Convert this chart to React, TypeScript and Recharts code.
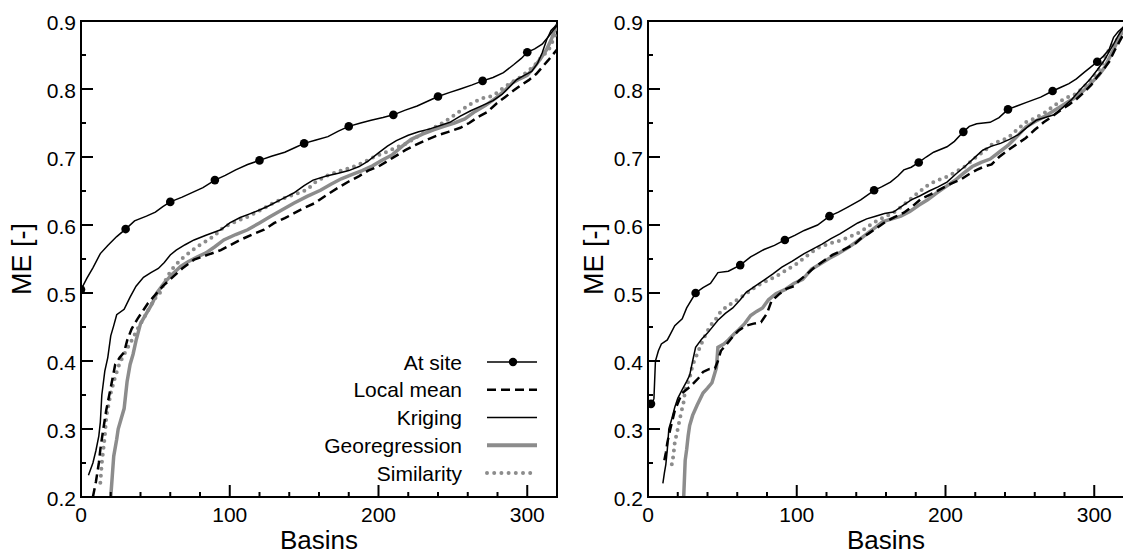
import React from 'react';
import { LineChart, Line, XAxis, YAxis, ReferenceArea, Legend } from 'recharts';

type Pt = [number, number];

// ---------- ticks / labels ----------
const xMajorTicks = [0, 100, 200, 300];
const xMinorTicks = [20, 40, 60, 80, 120, 140, 160, 180, 220, 240, 260, 280];
const yMajorTicks = [0.2, 0.3, 0.4, 0.5, 0.6, 0.7, 0.8, 0.9];
const yMinorTicks = [0.25, 0.35, 0.45, 0.55, 0.65, 0.75, 0.85];
const xDomain = [0, 320];
const yDomain = [0.2, 0.9];
const xTitle = 'Basins';
const yTitle = 'ME [-]';
const seriesNames = ['At site', 'Local mean', 'Kriging', 'Georegression', 'Similarity'];

// ---------- left panel ----------
const leftAtSiteMarkers = [0, 30, 60, 90, 120, 150, 180, 210, 240, 270, 300];
const leftAtSite: Pt[] = [
  [0, 0.505], [4, 0.522], [8, 0.537], [13, 0.558], [18, 0.57], [24, 0.583], [30, 0.594], [36, 0.606],
  [44, 0.613], [50, 0.619], [55, 0.627], [60, 0.634], [68, 0.641], [75, 0.648], [82, 0.655], [90, 0.666],
  [97, 0.673], [104, 0.681], [112, 0.689], [120, 0.695], [128, 0.701], [137, 0.707], [144, 0.714],
  [150, 0.72], [158, 0.725], [166, 0.73], [173, 0.738], [180, 0.745], [188, 0.75], [195, 0.754],
  [203, 0.758], [210, 0.762], [218, 0.769], [226, 0.775], [233, 0.782], [240, 0.789], [248, 0.795],
  [255, 0.8], [263, 0.806], [270, 0.812], [277, 0.817], [284, 0.824], [291, 0.836], [296, 0.845],
  [300, 0.854], [305, 0.859], [310, 0.866], [315, 0.879], [318, 0.888], [320, 0.893],
];
const leftLocalMean: Pt[] = [
  [8, 0.2], [10, 0.222], [12, 0.25], [13, 0.27], [15, 0.3], [17, 0.328], [19, 0.35], [21, 0.372],
  [23, 0.395], [26, 0.405], [29, 0.413], [31, 0.43], [34, 0.447], [38, 0.462], [42, 0.475], [45, 0.485],
  [49, 0.495], [55, 0.51], [62, 0.524], [68, 0.536], [76, 0.549], [85, 0.556], [94, 0.563], [100, 0.57],
  [107, 0.578], [115, 0.586], [123, 0.593], [130, 0.603], [137, 0.61], [143, 0.617], [150, 0.625],
  [157, 0.632], [165, 0.644], [173, 0.655], [180, 0.664], [187, 0.672], [193, 0.68], [200, 0.686],
  [206, 0.694], [212, 0.702], [218, 0.71], [224, 0.717], [232, 0.725], [240, 0.732], [247, 0.737],
  [255, 0.743], [261, 0.75], [267, 0.759], [273, 0.766], [279, 0.778], [285, 0.788], [291, 0.798],
  [296, 0.806], [301, 0.813], [306, 0.822], [310, 0.832], [314, 0.842], [317, 0.85], [320, 0.858],
];
const leftKriging: Pt[] = [
  [5, 0.232], [8, 0.25], [10, 0.268], [12, 0.29], [13, 0.31], [14, 0.35], [16, 0.385], [18, 0.405],
  [20, 0.437], [22, 0.452], [24, 0.468], [29, 0.476], [33, 0.494], [37, 0.51], [42, 0.523], [47, 0.53],
  [52, 0.536], [56, 0.545], [60, 0.556], [64, 0.563], [70, 0.571], [76, 0.578], [84, 0.585], [94, 0.593],
  [100, 0.603], [107, 0.611], [113, 0.616], [120, 0.622], [126, 0.628], [135, 0.638], [143, 0.647],
  [150, 0.658], [156, 0.666], [165, 0.672], [173, 0.676], [180, 0.68], [187, 0.686], [193, 0.694],
  [200, 0.706], [206, 0.716], [212, 0.724], [220, 0.732], [227, 0.737], [234, 0.741], [241, 0.746],
  [248, 0.751], [255, 0.76], [262, 0.768], [270, 0.776], [277, 0.783], [283, 0.792], [288, 0.803],
  [293, 0.814], [298, 0.82], [303, 0.826], [307, 0.838], [310, 0.853], [313, 0.872], [316, 0.886], [320, 0.895],
];
const leftGeoregression: Pt[] = [
  [20, 0.2], [21, 0.23], [22, 0.26], [24, 0.285], [25, 0.3], [27, 0.315], [29, 0.33], [30, 0.35],
  [31, 0.37], [33, 0.395], [35, 0.41], [37, 0.43], [40, 0.455], [44, 0.47], [48, 0.485], [51, 0.5],
  [56, 0.515], [61, 0.527], [67, 0.539], [72, 0.546], [78, 0.553], [84, 0.559], [90, 0.568],
  [96, 0.578], [104, 0.586], [112, 0.593], [120, 0.603], [127, 0.612], [135, 0.622], [143, 0.632],
  [152, 0.642], [161, 0.651], [168, 0.66], [175, 0.668], [182, 0.674], [189, 0.68], [196, 0.687],
  [202, 0.695], [209, 0.703], [216, 0.716], [222, 0.726], [230, 0.734], [237, 0.74], [244, 0.745],
  [251, 0.75], [258, 0.756], [265, 0.767], [272, 0.776], [279, 0.787], [285, 0.798], [290, 0.809],
  [295, 0.815], [300, 0.82], [305, 0.833], [309, 0.845], [313, 0.858], [316, 0.872], [320, 0.895],
];
const leftSimilarity: Pt[] = [
  [13, 0.221], [14, 0.25], [16, 0.289], [17, 0.318], [20, 0.353], [23, 0.377], [26, 0.397], [30, 0.414],
  [34, 0.43], [38, 0.447], [44, 0.47], [49, 0.49], [53, 0.5], [56, 0.515], [58, 0.524], [62, 0.537],
  [67, 0.549], [72, 0.558], [78, 0.568], [84, 0.576], [89, 0.583], [96, 0.597], [104, 0.605],
  [112, 0.612], [120, 0.621], [129, 0.632], [137, 0.64], [145, 0.646], [152, 0.652], [158, 0.664],
  [165, 0.672], [173, 0.679], [181, 0.684], [190, 0.692], [197, 0.7], [205, 0.707], [212, 0.714],
  [219, 0.72], [226, 0.73], [233, 0.739], [240, 0.746], [248, 0.757], [255, 0.768], [262, 0.778],
  [269, 0.786], [277, 0.79], [283, 0.8], [289, 0.809], [295, 0.817], [301, 0.827], [305, 0.835],
  [308, 0.843], [312, 0.852], [315, 0.86], [318, 0.875], [320, 0.889],
];

// ---------- right panel ----------
const rightAtSiteMarkers = [2, 32, 62, 92, 122, 152, 182, 212, 242, 272, 302];
const rightAtSite: Pt[] = [
  [2, 0.337], [3, 0.338], [4, 0.345], [5, 0.4], [7, 0.415], [9, 0.425], [13, 0.431], [18, 0.452],
  [23, 0.462], [26, 0.478], [32, 0.5], [37, 0.508], [42, 0.514], [47, 0.53], [54, 0.532], [62, 0.541],
  [69, 0.553], [78, 0.564], [85, 0.57], [92, 0.578], [99, 0.585], [105, 0.592], [114, 0.6], [122, 0.613],
  [128, 0.619], [134, 0.626], [143, 0.637], [152, 0.651], [157, 0.656], [163, 0.663], [168, 0.672],
  [172, 0.681], [177, 0.685], [182, 0.692], [187, 0.7], [192, 0.707], [201, 0.715], [206, 0.723],
  [212, 0.737], [216, 0.745], [221, 0.749], [230, 0.751], [236, 0.758], [242, 0.77], [248, 0.775],
  [254, 0.78], [264, 0.788], [272, 0.797], [278, 0.803], [283, 0.808], [288, 0.815], [293, 0.824],
  [297, 0.831], [302, 0.84], [306, 0.848], [310, 0.858], [313, 0.876], [316, 0.884], [320, 0.892],
];
const rightLocalMean: Pt[] = [
  [11, 0.254], [12, 0.265], [13, 0.28], [15, 0.3], [18, 0.327], [21, 0.343], [23, 0.353], [27, 0.36],
  [30, 0.366], [34, 0.375], [37, 0.384], [41, 0.388], [45, 0.389], [47, 0.4], [49, 0.415], [53, 0.425],
  [57, 0.436], [61, 0.445], [66, 0.452], [71, 0.455], [76, 0.457], [80, 0.47], [83, 0.488], [88, 0.498],
  [93, 0.506], [98, 0.51], [102, 0.519], [107, 0.528], [112, 0.538], [118, 0.547], [124, 0.556],
  [131, 0.563], [139, 0.572], [143, 0.58], [148, 0.587], [154, 0.596], [160, 0.605], [166, 0.612],
  [172, 0.618], [178, 0.628], [184, 0.639], [190, 0.645], [196, 0.652], [203, 0.66], [211, 0.668],
  [216, 0.675], [221, 0.681], [226, 0.686], [231, 0.689], [236, 0.7], [242, 0.71], [248, 0.719],
  [254, 0.728], [260, 0.74], [266, 0.751], [272, 0.76], [278, 0.77], [283, 0.777], [288, 0.785],
  [293, 0.795], [298, 0.806], [302, 0.818], [306, 0.828], [310, 0.84], [314, 0.858], [317, 0.87], [320, 0.882],
];
const rightKriging: Pt[] = [
  [10, 0.22], [11, 0.235], [12, 0.248], [13, 0.27], [14, 0.3], [16, 0.315], [18, 0.332], [20, 0.345],
  [23, 0.358], [26, 0.37], [28, 0.379], [30, 0.4], [32, 0.42], [36, 0.432], [40, 0.441], [47, 0.46],
  [52, 0.47], [57, 0.478], [62, 0.49], [66, 0.501], [72, 0.51], [78, 0.519], [84, 0.528], [90, 0.538],
  [97, 0.547], [105, 0.558], [111, 0.565], [117, 0.572], [123, 0.58], [129, 0.587], [135, 0.595],
  [141, 0.603], [147, 0.609], [153, 0.613], [159, 0.617], [165, 0.619], [171, 0.628], [177, 0.637],
  [183, 0.643], [189, 0.65], [195, 0.656], [201, 0.663], [207, 0.675], [213, 0.686], [219, 0.698],
  [225, 0.71], [231, 0.716], [237, 0.72], [243, 0.726], [249, 0.733], [255, 0.744], [261, 0.754],
  [267, 0.758], [273, 0.762], [279, 0.773], [285, 0.785], [291, 0.8], [297, 0.814], [302, 0.828],
  [307, 0.843], [310, 0.855], [313, 0.866], [316, 0.878], [320, 0.892],
];
const rightGeoregression: Pt[] = [
  [24, 0.2], [25, 0.254], [26, 0.27], [27, 0.29], [28, 0.305], [30, 0.32], [33, 0.335], [37, 0.353],
  [40, 0.36], [43, 0.368], [46, 0.39], [47, 0.42], [51, 0.425], [54, 0.431], [58, 0.44], [61, 0.446],
  [65, 0.455], [69, 0.467], [73, 0.473], [77, 0.478], [81, 0.49], [86, 0.499], [92, 0.505], [98, 0.514],
  [104, 0.52], [110, 0.535], [116, 0.543], [122, 0.551], [128, 0.558], [134, 0.566], [140, 0.575],
  [146, 0.585], [152, 0.595], [158, 0.605], [164, 0.609], [170, 0.613], [176, 0.62], [182, 0.629],
  [188, 0.637], [194, 0.647], [200, 0.656], [206, 0.665], [212, 0.676], [218, 0.686], [224, 0.692],
  [230, 0.697], [236, 0.707], [242, 0.717], [248, 0.73], [254, 0.744], [260, 0.752], [266, 0.759],
  [272, 0.767], [278, 0.775], [283, 0.782], [288, 0.788], [293, 0.798], [298, 0.809], [303, 0.82],
  [307, 0.832], [310, 0.845], [313, 0.858], [316, 0.872], [320, 0.889],
];
const rightSimilarity: Pt[] = [
  [16, 0.248], [17, 0.26], [18, 0.28], [20, 0.3], [22, 0.321], [24, 0.34], [25, 0.358], [28, 0.375],
  [30, 0.394], [33, 0.41], [36, 0.426], [39, 0.44], [42, 0.452], [46, 0.463], [49, 0.473], [53, 0.48],
  [57, 0.486], [62, 0.493], [66, 0.499], [71, 0.507], [76, 0.514], [82, 0.52], [88, 0.527], [94, 0.535],
  [100, 0.543], [107, 0.555], [114, 0.566], [121, 0.572], [129, 0.577], [136, 0.583], [143, 0.59],
  [148, 0.598], [153, 0.605], [159, 0.612], [165, 0.618], [171, 0.628], [177, 0.639], [183, 0.65],
  [189, 0.66], [195, 0.666], [201, 0.671], [207, 0.678], [213, 0.686], [219, 0.697], [225, 0.707],
  [232, 0.72], [237, 0.724], [242, 0.728], [248, 0.74], [254, 0.751], [260, 0.757], [266, 0.764],
  [272, 0.774], [278, 0.783], [283, 0.789], [288, 0.793], [293, 0.803], [298, 0.814], [302, 0.825],
  [305, 0.835], [308, 0.85], [310, 0.858], [315, 0.872], [320, 0.889],
];

// ---------- styling ----------
const FONT = '"Liberation Sans", Arial, Helvetica, sans-serif';
const BLACK = '#000000';
const GRAY = '#8c8c8c';

const toData = (pts: Pt[]) => pts.map(([b, v]) => ({ b, v }));
const xTicks = [...xMajorTicks, ...xMinorTicks].sort((a, b) => a - b);
const yTicks = [...yMajorTicks, ...yMinorTicks].sort((a, b) => a - b);

const isMajorY = (v: number) => yMajorTicks.some((t) => Math.abs(t - v) < 1e-6);

function XTick(props: any) {
  const { x, y, payload } = props;
  const major = xMajorTicks.includes(payload.value);
  return (
    <g>
      <line x1={x} x2={x} y1={y} y2={y - (major ? 12 : 5)} stroke={BLACK} strokeWidth={2} />
      {major && (
        <text x={x} y={y + 25} textAnchor="middle" fontSize={21} fontFamily={FONT} fill={BLACK}>
          {payload.value}
        </text>
      )}
    </g>
  );
}

function YTick(props: any) {
  const { x, y, payload } = props;
  const major = isMajorY(payload.value);
  return (
    <g>
      <line x1={x} x2={x + (major ? 12 : 5)} y1={y} y2={y} stroke={BLACK} strokeWidth={2} />
      {major && (
        <text x={x - 5} y={y + 9} textAnchor="end" fontSize={21} fontFamily={FONT} fill={BLACK}>
          {payload.value.toFixed(1)}
        </text>
      )}
    </g>
  );
}

const legendStyles = [
  { stroke: BLACK, width: 1.5, dash: undefined as string | undefined, cap: 'butt', dot: true },
  { stroke: BLACK, width: 2.5, dash: '9 5', cap: 'butt', dot: false },
  { stroke: BLACK, width: 1.5, dash: undefined, cap: 'butt', dot: false },
  { stroke: GRAY, width: 4, dash: undefined, cap: 'butt', dot: false },
  { stroke: GRAY, width: 4, dash: '0 7.2', cap: 'round', dot: false },
];

// legend box placed at (260, 340) in page pixels
function LegendBox() {
  return (
    <svg width={300} height={150} style={{ display: 'block', overflow: 'visible' }}>
      {seriesNames.map((name, i) => {
        const cy = 22 + i * 27.75;
        const s = legendStyles[i];
        return (
          <g key={name}>
            <text x={202} y={cy + 7.5} textAnchor="end" fontSize={21} fontFamily={FONT} fill={BLACK}>
              {name}
            </text>
            <line
              x1={227}
              x2={277}
              y1={cy}
              y2={cy}
              stroke={s.stroke}
              strokeWidth={s.width}
              strokeDasharray={s.dash}
              strokeLinecap={s.cap as any}
            />
            {s.dot && <circle cx={253} cy={cy} r={4.2} fill={BLACK} />}
          </g>
        );
      })}
    </svg>
  );
}

function makeDot(markers: number[]) {
  return (props: any) => {
    const { cx, cy, payload, index } = props;
    if (markers.includes(payload.b)) {
      return <circle key={`d${index}`} cx={cx} cy={cy} r={4.3} fill={BLACK} stroke="none" />;
    }
    return <g key={`d${index}`} />;
  };
}

interface PanelProps {
  left: number;
  yAxisWidth: number;
  labelGap: number;
  atSite: Pt[];
  markers: number[];
  localMean: Pt[];
  kriging: Pt[];
  georegression: Pt[];
  similarity: Pt[];
  showLegend: boolean;
}

function Panel(p: PanelProps) {
  const chartWidth = 600;
  const plotWidth = 476;
  const rightMargin = chartWidth - p.yAxisWidth - plotWidth;
  return (
    <div style={{ position: 'absolute', left: p.left, top: 0 }}>
      <LineChart
        width={chartWidth}
        height={556}
        margin={{ top: 21, right: rightMargin, bottom: 0, left: 0 }}
      >
        <XAxis
          type="number"
          dataKey="b"
          domain={xDomain}
          ticks={xTicks}
          interval={0}
          allowDataOverflow
          tickLine={false}
          tickSize={0}
          tickMargin={0}
          axisLine={{ stroke: BLACK, strokeWidth: 2 }}
          height={59}
          tick={(tp: any) => <XTick {...tp} />}
          label={(lp: any) => {
            const vb = lp.viewBox || {};
            return (
              <text
                x={vb.x + vb.width / 2}
                y={vb.y + 52}
                textAnchor="middle"
                fontSize={26}
                fontFamily={FONT}
                fill={BLACK}
              >
                {xTitle}
              </text>
            );
          }}
        />
        <YAxis
          type="number"
          dataKey="v"
          domain={yDomain}
          ticks={yTicks}
          interval={0}
          allowDataOverflow
          tickLine={false}
          tickSize={0}
          tickMargin={0}
          axisLine={{ stroke: BLACK, strokeWidth: 2 }}
          width={p.yAxisWidth}
          tick={(tp: any) => <YTick {...tp} />}
          label={(lp: any) => {
            const vb = lp.viewBox || {};
            const x = vb.x + vb.width - p.labelGap;
            const y = vb.y + vb.height / 2;
            return (
              <text
                x={x}
                y={y}
                transform={`rotate(-90, ${x}, ${y})`}
                textAnchor="middle"
                fontSize={27}
                fontFamily={FONT}
                fill={BLACK}
              >
                {yTitle}
              </text>
            );
          }}
        />
        <ReferenceArea
          x1={xDomain[0]}
          x2={xDomain[1]}
          y1={yDomain[0]}
          y2={yDomain[1]}
          fill="none"
          fillOpacity={0}
          stroke={BLACK}
          strokeWidth={2}
          ifOverflow="visible"
        />
        <Line
          data={toData(p.georegression)}
          dataKey="v"
          name={seriesNames[3]}
          stroke={GRAY}
          strokeWidth={3.5}
          dot={false}
          activeDot={false}
          isAnimationActive={false}
        />
        <Line
          data={toData(p.similarity)}
          dataKey="v"
          name={seriesNames[4]}
          stroke={GRAY}
          strokeWidth={4}
          strokeDasharray="0 7"
          strokeLinecap="round"
          dot={false}
          activeDot={false}
          isAnimationActive={false}
        />
        <Line
          data={toData(p.localMean)}
          dataKey="v"
          name={seriesNames[1]}
          stroke={BLACK}
          strokeWidth={2.5}
          strokeDasharray="9 5"
          dot={false}
          activeDot={false}
          isAnimationActive={false}
        />
        <Line
          data={toData(p.kriging)}
          dataKey="v"
          name={seriesNames[2]}
          stroke={BLACK}
          strokeWidth={1.5}
          dot={false}
          activeDot={false}
          isAnimationActive={false}
        />
        <Line
          data={toData(p.atSite)}
          dataKey="v"
          name={seriesNames[0]}
          stroke={BLACK}
          strokeWidth={1.5}
          dot={makeDot(p.markers)}
          activeDot={false}
          isAnimationActive={false}
        />
        {p.showLegend && (
          <Legend
            layout="vertical"
            align="center"
            verticalAlign="middle"
            content={() => <LegendBox />}
            wrapperStyle={{ position: 'absolute', left: 260, top: 340, width: 300, height: 150 }}
          />
        )}
      </LineChart>
    </div>
  );
}

export default function App() {
  return (
    <div
      style={{
        position: 'absolute',
        left: 0,
        top: 0,
        width: 1123,
        height: 556,
        overflow: 'hidden',
        background: '#ffffff',
      }}
    >
      <Panel
        left={0}
        yAxisWidth={81}
        labelGap={50}
        atSite={leftAtSite}
        markers={leftAtSiteMarkers}
        localMean={leftLocalMean}
        kriging={leftKriging}
        georegression={leftGeoregression}
        similarity={leftSimilarity}
        showLegend={true}
      />
      <Panel
        left={560}
        yAxisWidth={88}
        labelGap={45}
        atSite={rightAtSite}
        markers={rightAtSiteMarkers}
        localMean={rightLocalMean}
        kriging={rightKriging}
        georegression={rightGeoregression}
        similarity={rightSimilarity}
        showLegend={false}
      />
    </div>
  );
}
